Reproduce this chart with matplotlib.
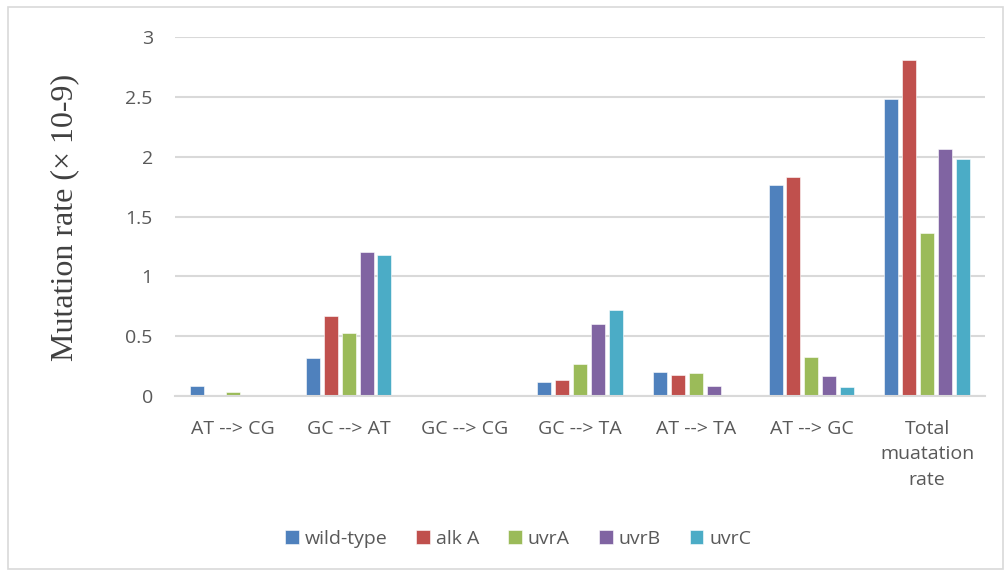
import numpy as np
import matplotlib
matplotlib.use('Agg')
from matplotlib import pyplot as plt
from matplotlib.patches import Rectangle

categories = ['AT --> CG', 'GC --> AT', 'GC --> CG', 'GC --> TA', 'AT --> TA', 'AT --> GC',
              'Total\nmuatation\nrate']
wild_type = [0.08, 0.32, 0.0, 0.12, 0.197, 1.76, 2.48]
alk_a     = [0.0, 0.67, 0.0, 0.133, 0.178, 1.83, 2.81]
uvr_a     = [0.03, 0.53, 0.0, 0.27, 0.19, 0.325, 1.36]
uvr_b     = [0.0, 1.20, 0.0, 0.60, 0.087, 0.17, 2.06]
uvr_c     = [0.0, 1.18, 0.0, 0.717, 0.0, 0.078, 1.98]
series = ['wild-type', 'alk A', 'uvrA', 'uvrB', 'uvrC']
colors = ['#4F81BD', '#C0504D', '#9BBB59', '#8064A2', '#4BACC6']

plt.rcParams['font.family'] = ['Open Sans', 'DejaVu Sans']

fig = plt.figure(figsize=(10.08, 5.72), dpi=100)
ax = fig.add_axes([175/1008, 1-396/572, 810/1008, 359/572])

# light frame round the whole chart
fig.patches.append(Rectangle((8/1008, 3/572), 995/1008, 562/572, transform=fig.transFigure,
                             fill=False, edgecolor='#d9d9d9', lw=1.2))

x = np.arange(len(categories))
step = 0.155
width = 0.121
for i, (name, vals) in enumerate(zip(series, [wild_type, alk_a, uvr_a, uvr_b, uvr_c])):
    ax.bar(x + (i - 2) * step, vals, width, color=colors[i], label=name,
           edgecolor='white', linewidth=0.4, zorder=3)

ax.set_xlim(-0.5, len(categories) - 0.5)
ax.set_ylim(0, 3)
ax.set_yticks([0, 0.5, 1, 1.5, 2, 2.5, 3])
ax.set_yticklabels(['0', '0.5', '1', '1.5', '2', '2.5', '3'])
ax.yaxis.grid(True, color='#d9d9d9', lw=1.5, zorder=0)
ax.set_xticks(x)
ax.set_xticklabels(categories, linespacing=1.55)
ax.tick_params(axis='both', length=0, labelsize=14, colors='#595959')
ax.tick_params(axis='y', pad=16)
ax.tick_params(axis='x', pad=17)
for s in ['top', 'right', 'left']:
    ax.spines[s].set_visible(False)
ax.spines['bottom'].set_color('#d9d9d9')
ax.spines['bottom'].set_linewidth(1.5)
ax.spines['bottom'].set_zorder(4)

fig.text(65/1008, 1-217/572, 'Mutation rate (× 10-9)', rotation=90, ha='center', va='center',
         fontsize=23, color='#404040', family=['Liberation Serif', 'DejaVu Serif'])

fig.legend(loc='center', bbox_to_anchor=(518/1008, 1-539/572), ncol=5, frameon=False,
           fontsize=14, handlelength=0.7, handleheight=0.7, handletextpad=0.3,
           columnspacing=1.5, labelcolor='#595959')

fig.savefig('out.png', dpi=100)
